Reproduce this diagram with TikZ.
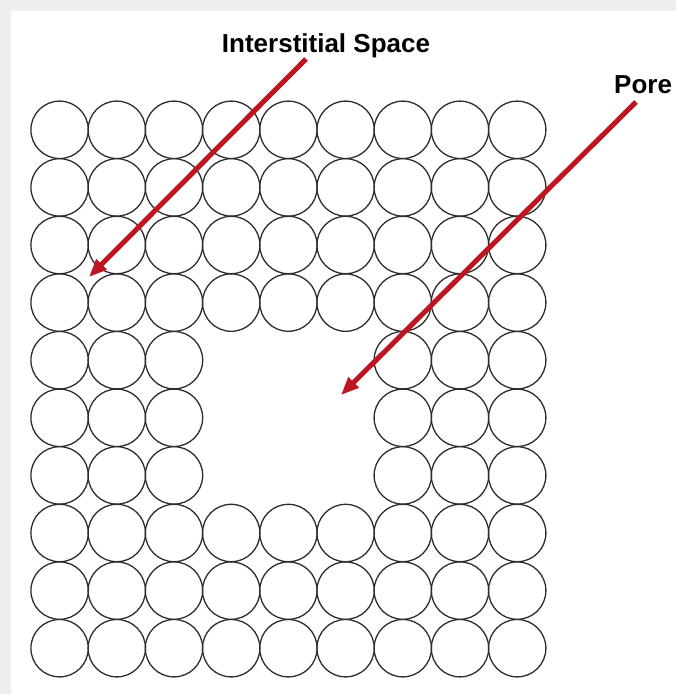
\documentclass[tikz,border=0pt]{standalone}
\usepackage{fontspec}
\setmainfont{Liberation Sans}
\usetikzlibrary{arrows.meta}
\definecolor{arrowred}{RGB}{190,22,32}
\definecolor{framegray}{RGB}{238,238,238}
\definecolor{ringgray}{RGB}{45,45,45}
\begin{document}
\begin{tikzpicture}[x=1pt,y=-1pt,
  grain/.style={circle,draw=ringgray,line width=1.3pt,minimum size=57.4pt,inner sep=0pt},
  pointer/.style={draw=arrowred,line width=5pt,-{Triangle[length=18pt,width=14pt]}},
  lbl/.style={font=\fontsize{26}{30}\selectfont\bfseries,inner sep=0pt,text=black}]
\useasboundingbox (0,0) rectangle (676,694);
\fill[white] (0,0) rectangle (676,694);
\fill[framegray] (0,0) rectangle (676,11);
\fill[framegray] (0,0) rectangle (11,694);
% grains
\foreach \j in {0,...,9}{
  \foreach \i in {0,...,8}{
    \pgfmathtruncatemacro{\inpore}{(\j>=4)&&(\j<=6)&&(\i>=3)&&(\i<=5)}
    \ifnum\inpore=0
      \node[grain] (c-\i-\j) at ({59.6+57.2*\i},{129.8+57.6*\j}) {};
    \fi
  }
}
% labels
\node[lbl,anchor=base] (interlbl) at (326,52) {Interstitial Space};
\node[lbl,anchor=base west] (porelbl) at (614,93) {Pore};
% arrow ends
\coordinate (intertail) at (306,59);
\coordinate (intertip) at (89,277);
\coordinate (poretail) at (636,102);
\coordinate (poretip) at (341,395);
\draw[pointer] (intertail) -- (intertip);
\draw[pointer] (poretail) -- (poretip);
\end{tikzpicture}
\end{document}
